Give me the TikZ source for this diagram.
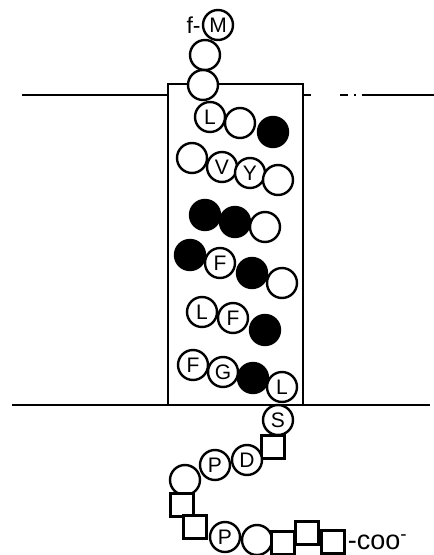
\documentclass[tikz,border=0pt]{standalone}
\usepackage{fontspec}
\setmainfont{Liberation Sans}
\usepackage{tikz}
\newcommand\resfont{\fontsize{21}{23}\selectfont}

\begin{document}
\begin{tikzpicture}[x=1pt, y=-1pt, line width=2.4pt]
\tikzstyle{res}=[draw, shape=circle, fill=white, minimum size=30pt, inner sep=0pt, font=\resfont];
\tikzstyle{hyd}=[res, fill=black];
\tikzstyle{box}=[draw, fill=white, minimum size=23pt, inner sep=0pt];
\useasboundingbox (0,0) rectangle (434,555);
% membrane
\draw (22,95) -- (168,95);
\draw (303,95) -- (311,95);
\draw (340,95) -- (348,95) (354,95) -- (356,95) (362,95) -- (434,95);
\draw (12,405) -- (430,405);
\draw (168,84) rectangle (303,405);
% chain, N end
\node [res] (a0) at (218,25) {M};
\node [res] (a1) at (205,55) {};
\node [res] (a2) at (203,85) {};
\node [res] (a3) at (210,117) {L};
\node [res] (a4) at (240,123) {};
\node [hyd] (a5) at (273,132) {};
\node [res] (a6) at (192,158) {};
\node [res] (a7) at (222,167) {V};
\node [res] (a8) at (250,173) {Y};
\node [res] (a9) at (278,180) {};
\node [hyd] (a10) at (205,215) {};
\node [hyd] (a11) at (235,222) {};
\node [res] (a12) at (265,227) {};
\node [hyd] (a13) at (190,255) {};
\node [res] (a14) at (220,263) {F};
\node [hyd] (a15) at (252,273) {};
\node [res] (a16) at (282,283) {};
\node [res] (a17) at (202,312) {L};
\node [res] (a18) at (233,318) {F};
\node [hyd] (a19) at (265,330) {};
\node [res] (a20) at (193,365) {F};
\node [res] (a21) at (223,372) {G};
\node [hyd] (a22) at (253,378) {};
\node [res] (a23) at (282,387) {L};
% C end, below the membrane
\node [res] (a24) at (278,420) {S};
\node [box] (a25) at (273,447) {};
\node [res] (a26) at (247,460) {D};
\node [res] (a27) at (215,465) {P};
\node [res] (a28) at (185,480) {};
\node [box] (a29) at (182,505) {};
\node [box] (a30) at (195,527) {};
\node [res] (a31) at (225,537) {P};
\node [res] (a32) at (257,540) {};
\node [box] (a33) at (283,543) {};
\node [box] (a34) at (307,533) {};
\node [box] (a35) at (333,542) {};
% ends
\node [anchor=east, inner sep=0pt, font=\fontsize{23}{25}\selectfont] (fmet) at (a0.west) {f-};
\node [anchor=west, inner sep=1pt, font=\fontsize{27}{29}\selectfont] (coo) at (a35.east) {-coo\textsuperscript{-}};
\end{tikzpicture}
\end{document}
